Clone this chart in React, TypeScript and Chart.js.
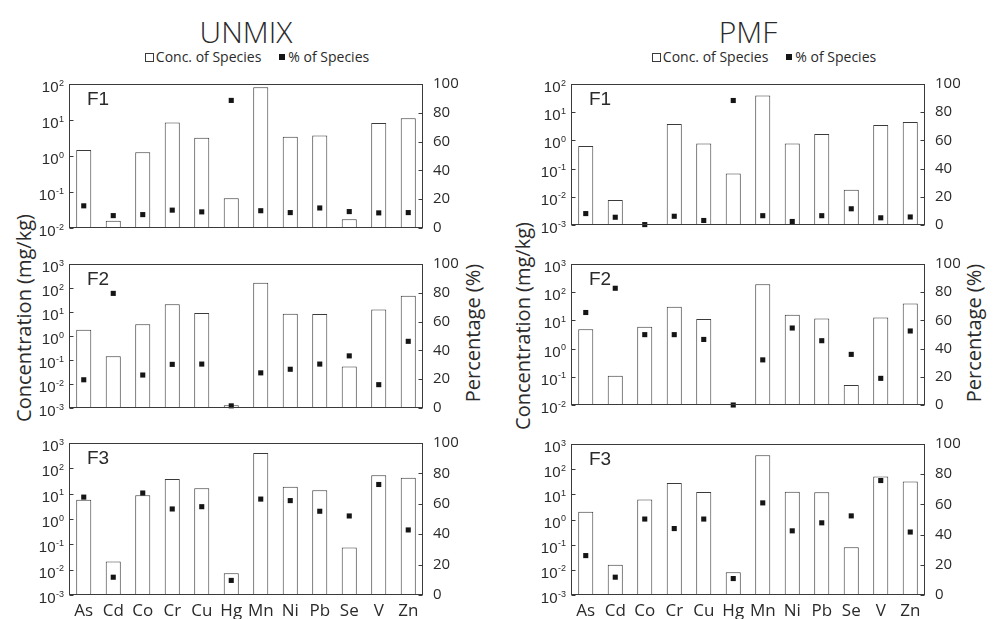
import React, { useEffect, useRef } from "react";
import { Chart, registerables } from "chart.js";

Chart.register(...registerables);

// ---------------- DATA ----------------
const categories = ["As", "Cd", "Co", "Cr", "Cu", "Hg", "Mn", "Ni", "Pb", "Se", "V", "Zn"];
const pctTicks = [0, 20, 40, 60, 80, 100];

const unmixF1Conc = [1.46, 0.0159, 1.27, 8.5, 3.2, 0.067, 81, 3.4, 3.7, 0.0175, 8.2, 11.2];
const unmixF1Pct = [15.4, 8.6, 9.3, 12.4, 11.2, 88.6, 12.0, 10.7, 13.9, 11.4, 10.5, 10.7];
const unmixF2Conc = [1.8, 0.145, 3.06, 20.9, 9.0, 0.0013, 165, 8.5, 8.2, 0.054, 12.7, 47];
const unmixF2Pct = [19.6, 79.6, 22.9, 30.3, 30.5, 1.5, 24.4, 26.9, 30.5, 36.2, 16.2, 46.3];
const unmixF3Conc = [5.8, 0.021, 8.65, 38, 16.4, 0.0072, 407, 18.9, 13.7, 0.075, 53.6, 42.6];
const unmixF3Pct = [64.4, 11.7, 67.1, 56.6, 58.1, 9.6, 63.1, 62.1, 55.1, 52.0, 72.7, 42.8];

const pmfF1Conc = [0.63, 0.0077, null, 3.8, 0.77, 0.067, 39, 0.77, 1.68, 0.0178, 3.5, 4.5];
const pmfF1Pct = [8.1, 5.5, 0.3, 6.2, 3.2, 88.3, 6.6, 2.5, 6.6, 11.5, 5.1, 5.7];
const pmfF2Conc = [4.9, 0.108, 5.9, 30.5, 11.3, null, 190, 16, 11.6, 0.051, 12.8, 40];
const pmfF2Pct = [65.6, 82.8, 49.9, 49.9, 46.5, 0, 32, 54.6, 45.6, 35.9, 18.9, 52.5];
const pmfF3Conc = [2.04, 0.0158, 6.2, 27.9, 12.4, 0.0081, 361, 12.7, 12.0, 0.0785, 51.5, 32.3];
const pmfF3Pct = [26.1, 11.8, 50.3, 44.0, 50.3, 10.9, 61.0, 42.5, 47.8, 52.4, 75.8, 41.7];

// log-axis exponent ranges [min, max]
const unmixF1Range = [-2, 2];
const unmixF2Range = [-3, 3];
const unmixF3Range = [-3, 3];
const pmfF1Range = [-3, 2];
const pmfF2Range = [-2, 3];
const pmfF3Range = [-3, 3];

const methodTitles = ["UNMIX", "PMF"];
const factorLabels = ["F1", "F2", "F3"];
const legendConc = "Conc. of Species";
const legendPct = "% of Species";
const concTitle = "Concentration (mg/kg)";
const pctTitle = "Percentage (%)";

// ---------------- LAYOUT ----------------
const COLS = [
  { L: 69, R: 423 },
  { L: 571, R: 925 },
];
const ROWS = [
  [[77, 235], [257, 415], [436, 595]],
  [[77, 232], [257, 412], [437, 595]],
];
const PAD_X = 46;
const PAD_TOP = 12;
const TEXT = "#2a2a2a";
const LINE = "#3a3a3a";

const panelDeco = {
  id: "panelDeco",
  afterDraw(chart: any, _args: any, opts: any) {
    const { ctx, chartArea } = chart;
    const { left, right, top, bottom } = chartArea;
    const ys = chart.scales.y;
    const y1 = chart.scales.y1;
    ctx.save();
    ctx.strokeStyle = LINE;
    ctx.lineWidth = 1;
    const l = Math.round(left) + 0.5;
    const r = Math.round(right) - 0.5;
    const t = Math.round(top) + 0.5;
    const b = Math.round(bottom) - 0.5;
    ctx.strokeRect(l, t, r - l, b - t);
    ctx.beginPath();
    ys.ticks.forEach((tk: any) => {
      const py = Math.round(ys.getPixelForValue(tk.value)) + 0.5;
      ctx.moveTo(l, py);
      ctx.lineTo(l + 4, py);
    });
    y1.ticks.forEach((tk: any) => {
      const py = Math.round(y1.getPixelForValue(tk.value)) + 0.5;
      ctx.moveTo(r - 4, py);
      ctx.lineTo(r, py);
    });
    ctx.stroke();

    ctx.fillStyle = TEXT;
    ctx.textAlign = "left";
    ctx.textBaseline = "alphabetic";
    const baseFont = '15px "Liberation Sans", Arial, sans-serif';
    const expFont = '9px "Liberation Sans", Arial, sans-serif';
    ys.ticks.forEach((tk: any) => {
      const e = Math.round(Math.log10(tk.value));
      const es = String(e);
      const py = ys.getPixelForValue(tk.value);
      ctx.font = expFont;
      const we = ctx.measureText(es).width;
      ctx.font = baseFont;
      const wb = ctx.measureText("10").width;
      const xr = left - 5;
      ctx.fillText("10", xr - we - wb - 0.5, py + 8);
      ctx.font = expFont;
      ctx.fillText(es, xr - we, py + 1.5);
    });

    ctx.font = '19px "Liberation Sans", Arial, sans-serif';
    ctx.fillText(opts.label, left + 18, top + 21);
    ctx.restore();
  },
};

type PanelProps = {
  col: number;
  row: number;
  conc: (number | null)[];
  pct: number[];
  range: number[];
};

function PanelChart({ col, row, conc, pct, range }: PanelProps) {
  const ref = useRef<HTMLCanvasElement | null>(null);
  const { L, R } = COLS[col];
  const [T, B] = ROWS[col][row];
  const isBottom = row === 2;
  const xH = isBottom ? 24 : 0;
  const padBottom = isBottom ? 0 : 12;
  const cw = R - L + 2 * PAD_X;
  const ch = B - T + PAD_TOP + xH + padBottom;

  useEffect(() => {
    if (!ref.current) return;
    const exps: number[] = [];
    for (let e = range[0]; e <= range[1]; e++) exps.push(e);
    const chart = new Chart(ref.current, {
      type: "bar",
      data: {
        labels: categories,
        datasets: [
          {
            type: "bar",
            label: legendConc,
            data: conc as any,
            yAxisID: "y",
            backgroundColor: "#ffffff",
            borderColor: LINE,
            borderWidth: 1,
            barPercentage: 0.51,
            categoryPercentage: 1,
            order: 2,
          } as any,
          {
            type: "line",
            label: legendPct,
            data: pct,
            yAxisID: "y1",
            showLine: false,
            pointStyle: "rect",
            pointRadius: 3.6,
            pointBackgroundColor: "#151515",
            pointBorderWidth: 0,
            borderWidth: 0,
            clip: false,
            order: 1,
          } as any,
        ],
      },
      options: {
        responsive: false,
        animation: false,
        devicePixelRatio: 1,
        layout: { padding: { top: PAD_TOP, bottom: padBottom, left: 0, right: 0 } },
        plugins: {
          legend: { display: false },
          tooltip: { enabled: false },
          panelDeco: { label: factorLabels[row] },
        } as any,
        scales: {
          x: {
            type: "category",
            offset: true,
            grid: { display: false },
            border: { display: false },
            ticks: {
              display: isBottom,
              autoSkip: false,
              maxRotation: 0,
              padding: 0,
              color: TEXT,
              font: { family: '"Open Sans", sans-serif', size: 17, lineHeight: 1 },
            },
            afterFit: (s: any) => {
              s.height = xH;
            },
          },
          y: {
            type: "logarithmic",
            position: "left",
            min: Math.pow(10, range[0]),
            max: Math.pow(10, range[1]),
            grid: { display: false },
            border: { display: false },
            ticks: { display: false },
            afterBuildTicks: (s: any) => {
              s.ticks = exps.map((e) => ({ value: Math.pow(10, e) }));
            },
            afterFit: (s: any) => {
              s.width = PAD_X;
            },
          },
          y1: {
            type: "linear",
            position: "right",
            min: 0,
            max: 100,
            grid: { display: false, drawTicks: false },
            border: { display: false },
            ticks: {
              stepSize: 20,
              padding: 10,
              color: TEXT,
              font: { family: '"Open Sans", sans-serif', size: 15 },
            },
            afterBuildTicks: (s: any) => {
              s.ticks = pctTicks.map((v) => ({ value: v }));
            },
            afterFit: (s: any) => {
              s.width = PAD_X;
            },
          },
        } as any,
      },
      plugins: [panelDeco],
    });
    return () => chart.destroy();
  }, []);

  return (
    <canvas
      ref={ref}
      width={cw}
      height={ch}
      style={{
        position: "absolute",
        left: L - PAD_X,
        top: T - PAD_TOP,
        width: cw,
        height: ch,
      }}
    />
  );
}

const font = '"Open Sans", "Noto Sans", sans-serif';

function Legend({ cx }: { cx: number }) {
  return (
    <div
      style={{
        position: "absolute",
        left: cx - 150,
        top: 47,
        width: 300,
        display: "flex",
        justifyContent: "center",
        alignItems: "center",
        fontFamily: font,
        fontSize: 14,
        color: TEXT,
        whiteSpace: "nowrap",
        lineHeight: "20px",
      }}
    >
      <span
        style={{
          display: "inline-block",
          width: 7,
          height: 7,
          border: `1px solid ${LINE}`,
          marginRight: 2,
        }}
      />
      <span>{legendConc}</span>
      <span
        style={{
          display: "inline-block",
          width: 6,
          height: 6,
          background: "#151515",
          marginLeft: 18,
          marginRight: 3,
        }}
      />
      <span>{legendPct}</span>
    </div>
  );
}

function VTitle({ text, cx, cy }: { text: string; cx: number; cy: number }) {
  return (
    <div
      style={{
        position: "absolute",
        left: cx,
        top: cy,
        transform: "translate(-50%, -50%) rotate(-90deg)",
        fontFamily: font,
        fontSize: 20,
        color: TEXT,
        whiteSpace: "nowrap",
        lineHeight: "24px",
      }}
    >
      {text}
    </div>
  );
}

export default function App() {
  const panels = [
    { col: 0, row: 0, conc: unmixF1Conc, pct: unmixF1Pct, range: unmixF1Range },
    { col: 0, row: 1, conc: unmixF2Conc, pct: unmixF2Pct, range: unmixF2Range },
    { col: 0, row: 2, conc: unmixF3Conc, pct: unmixF3Pct, range: unmixF3Range },
    { col: 1, row: 0, conc: pmfF1Conc, pct: pmfF1Pct, range: pmfF1Range },
    { col: 1, row: 1, conc: pmfF2Conc, pct: pmfF2Pct, range: pmfF2Range },
    { col: 1, row: 2, conc: pmfF3Conc, pct: pmfF3Pct, range: pmfF3Range },
  ];
  return (
    <div
      style={{
        position: "absolute",
        left: 0,
        top: 0,
        width: 995,
        height: 619,
        overflow: "hidden",
        background: "#ffffff",
      }}
    >
      {methodTitles.map((t, i) => (
        <div
          key={t}
          style={{
            position: "absolute",
            left: (COLS[i].L + COLS[i].R) / 2 - 150,
            top: 12,
            width: 300,
            textAlign: "center",
            fontFamily: font,
            fontWeight: 300,
            fontSize: 30,
            lineHeight: "40px",
            color: TEXT,
          }}
        >
          {t}
        </div>
      ))}
      <Legend cx={257} />
      <Legend cx={764} />
      <VTitle text={concTitle} cx={24} cy={318} />
      <VTitle text={pctTitle} cx={473} cy={333} />
      <VTitle text={concTitle} cx={523} cy={326} />
      <VTitle text={pctTitle} cx={974} cy={333} />
      {panels.map((p) => (
        <PanelChart key={`${p.col}-${p.row}`} {...p} />
      ))}
    </div>
  );
}
